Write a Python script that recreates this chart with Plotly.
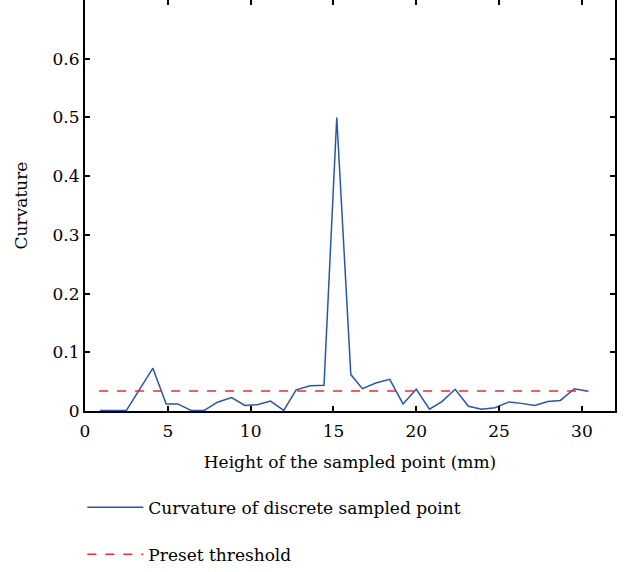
import plotly.graph_objects as go

height_mm = [0.9, 1.7, 2.5, 4.1, 4.9, 5.6, 6.4, 7.2, 8.0, 8.85, 9.65, 10.45, 11.2, 12.0,
             12.75, 13.6, 14.43, 15.2, 16.05, 16.75, 17.6, 18.4, 19.2, 20.0, 20.8, 21.55,
             22.35, 23.15, 23.95, 24.75, 25.6, 26.35, 27.15, 27.95, 28.7, 29.55, 30.3]
curvature = [0.001, 0.001, 0.001, 0.073, 0.012, 0.012, 0.001, 0.001, 0.015, 0.023, 0.0095,
             0.011, 0.017, 0.001, 0.036, 0.043, 0.044, 0.5, 0.062, 0.038, 0.048, 0.054,
             0.012, 0.037, 0.003, 0.016, 0.037, 0.008, 0.003, 0.0055, 0.0155, 0.013,
             0.0095, 0.016, 0.018, 0.038, 0.034]
threshold_x = [0.85, 30.4]
threshold_y = [0.034, 0.034]
x_ticks = [0, 5, 10, 15, 20, 25, 30]
y_ticks = [0, 0.1, 0.2, 0.3, 0.4, 0.5, 0.6]
y_tick_text = ["0", "0.1", "0.2", "0.3", "0.4", "0.5", "0.6"]

FONT = "DejaVu Serif"
FS = 17

fig = go.Figure()
fig.add_trace(go.Scatter(x=height_mm, y=curvature, mode="lines",
                         name="Curvature of discrete sampled point",
                         line=dict(color="#2b55a8", width=1.5), legendgroup="a"))
fig.add_trace(go.Scatter(x=threshold_x, y=threshold_y, mode="lines",
                         name="Preset threshold",
                         line=dict(color="#f22a2a", width=1.5, dash="dash"), legendgroup="b"))

axis_common = dict(showline=True, linecolor="black", linewidth=2, mirror="ticks",
                   ticks="inside", ticklen=5, tickwidth=1.5, tickcolor="black",
                   showgrid=False, zeroline=False,
                   tickfont=dict(family=FONT, size=FS, color="black"))

fig.update_xaxes(range=[0, 32], tickvals=x_ticks, ticklabelstandoff=4,
                 title=dict(text="Height of the sampled point (mm)",
                            font=dict(family=FONT, size=FS, color="black"), standoff=16),
                 **axis_common)
fig.update_yaxes(range=[0, 0.7], tickvals=y_ticks, ticktext=y_tick_text,
                 title=dict(text="Curvature", font=dict(family=FONT, size=FS, color="black"),
                            standoff=21),
                 **axis_common)

fig.update_layout(
    width=628, height=572,
    margin=dict(l=85, r=13, t=0, b=161, autoexpand=False),
    plot_bgcolor="white", paper_bgcolor="white",
    showlegend=True,
    legend=dict(x=-0.005, y=-0.1915, xanchor="left", yanchor="top",
                orientation="v", tracegroupgap=22, itemwidth=56,
                font=dict(family=FONT, size=FS, color="black"),
                bgcolor="rgba(0,0,0,0)"),
)

fig.write_html("out.html")
